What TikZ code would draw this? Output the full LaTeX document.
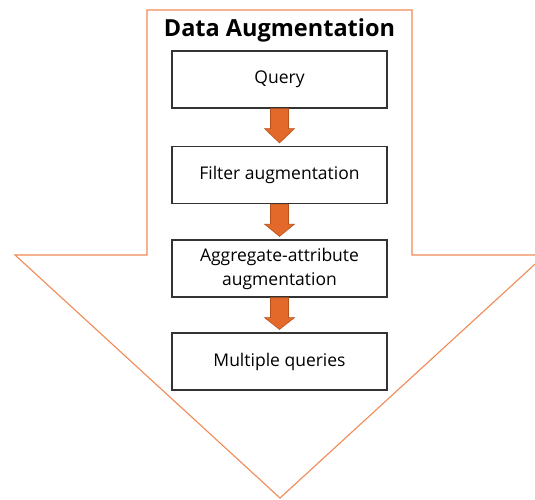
\documentclass[tikz,border=0pt]{standalone}
\usepackage{fontspec}
\setmainfont{Open Sans}
\usetikzlibrary{calc}
\definecolor{outlineorange}{HTML}{F08A55}
\definecolor{flowfill}{HTML}{E2692A}
\definecolor{flowedge}{HTML}{B8501C}
\tikzset{
  stagebox/.style={draw=black!80, line width=1.2pt, fill=white, minimum width=215pt, minimum height=57pt, inner sep=2pt, align=center, font=\fontsize{17.5}{24}\selectfont},
  flowarrow/.style={draw=flowedge, fill=flowfill, line width=0.6pt, line join=miter}
}
% block arrow from the bottom of #1 to the top of #2
\newcommand{\blockflow}[2]{%
  \draw[flowarrow]
    ($(#1.south)+(-9,0)$) -- ($(#1.south)+(-9,20)$) -- ($(#1.south)+(-15,20)$)
    -- ($(#2.north)+(0,-3)$)
    -- ($(#1.south)+(15,20)$) -- ($(#1.south)+(9,20)$) -- ($(#1.south)+(9,0)$) -- cycle;}
\begin{document}
\begin{tikzpicture}[x=1pt,y=-1pt]
\useasboundingbox (0,0) rectangle (535,500);
\clip (0,0) rectangle (535,500);
% big downward arrow outline
\draw[outlineorange, line width=1.1pt, line join=miter]
  (147,10) -- (412,10) -- (412,255) -- (545,255) -- (280,498) -- (15,255) -- (147,255) -- cycle;
\node[font=\fontsize{23.5}{28}\bfseries\selectfont] (title) at (279.5,30) {Data Augmentation};
% stages
\node[stagebox] (query) at (279.5,79.5) {Query};
\node[stagebox] (filter) at (279.5,175) {Filter augmentation};
\node[stagebox] (aggr) at (279.5,268.5) {Aggregate-attribute\\augmentation};
\node[stagebox] (multi) at (279.5,361.5) {Multiple queries};
% connectors between stages
\blockflow{query}{filter}
\blockflow{filter}{aggr}
\blockflow{aggr}{multi}
\end{tikzpicture}
\end{document}
